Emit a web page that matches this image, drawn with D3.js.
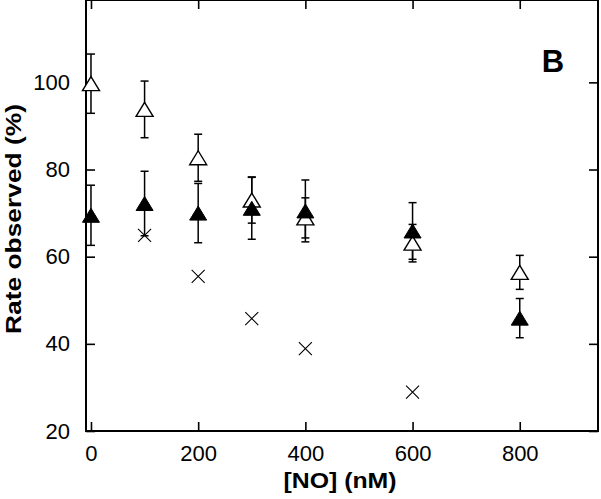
<!DOCTYPE html>
<html>
<head>
<meta charset="utf-8">
<script src="https://cdn.jsdelivr.net/npm/d3@7"></script>
<style>
  body { margin: 0; background: #fff; }
  svg { display: block; font-family: "Liberation Sans", Arial, sans-serif; }
  .axis text { font-size: 22px; fill: #000; }
  .axis line { stroke: #000; stroke-width: 1.6px; }
</style>
</head>
<body>
<div id="chart"></div>
<script>
// [NO] concentrations (nM)
const conc = [0, 100, 200, 300, 400, 600, 800];
// open triangles
const openMean = [99.7, 93.8, 82.7, 73.0, 68.9, 63.1, 56.4];
const openErr = [6.8, 6.5, 5.4, 5.3, 4.6, 4.3, 3.9];
// filled triangles
const filledMean = [69.5, 72.2, 70.0, 71.1, 70.5, 65.9, 45.9];
const filledErr = [6.9, 7.4, 6.8, 7.1, 7.1, 6.5, 4.5];
// crosses
const crossConc = [100, 200, 300, 400, 600];
const crossVal = [64.9, 55.5, 45.8, 38.9, 28.9];

const xTicks = [0, 200, 400, 600, 800];
const yTicks = [20, 40, 60, 80, 100];

const width = 601, height = 499;
const margin = {t: 0, r: 3, b: 68, l: 86};
const w = width - margin.l - margin.r;
const h = height - margin.t - margin.b;

const svg = d3.select('#chart').append('svg')
  .attr('width', width)
  .attr('height', height);

const plot = svg.append('g')
  .attr('transform', `translate(${margin.l},${margin.t})`);

const scaleX = d3.scaleLinear().domain([-9.3, 946]).range([0, w]);
const scaleY = d3.scaleLinear().domain([20, 118.9]).range([h, 0]);

//Axes: ticks point inward, mirrored on top and right
const axisBottom = d3.axisBottom(scaleX).tickValues(xTicks).tickSizeInner(-9).tickSizeOuter(0).tickPadding(14);
const axisTop = d3.axisTop(scaleX).tickValues(xTicks).tickSizeInner(-9).tickSizeOuter(0).tickFormat('');
const axisLeft = d3.axisLeft(scaleY).tickValues(yTicks).tickSizeInner(-9).tickSizeOuter(0).tickPadding(16);
const axisRight = d3.axisRight(scaleY).tickValues(yTicks).tickSizeInner(-9).tickSizeOuter(0).tickFormat('');

plot.append('g').attr('class', 'axis').attr('transform', `translate(0,${h})`).call(axisBottom);
plot.append('g').attr('class', 'axis').call(axisTop);
plot.append('g').attr('class', 'axis').call(axisLeft);
plot.append('g').attr('class', 'axis').attr('transform', `translate(${w},0)`).call(axisRight);
plot.selectAll('.axis .domain').remove();
plot.selectAll('.axis text').attr('font-family', null);

//Frame
plot.append('rect')
  .attr('x', 0).attr('y', 0)
  .attr('width', w).attr('height', h)
  .attr('fill', 'none')
  .attr('stroke', '#000')
  .attr('stroke-width', 2);

//Build point tables
const openPts = conc.map((c, i) => ({x: c, y: openMean[i], e: openErr[i]}));
const filledPts = conc.map((c, i) => ({x: c, y: filledMean[i], e: filledErr[i]}));
const crossPts = crossConc.map((c, i) => ({x: c, y: crossVal[i]}));

//Error bars
function errorBars(sel, data) {
  const g = sel.append('g').selectAll('g').data(data).enter().append('g')
    .attr('stroke', '#000').attr('stroke-width', 1.5);
  g.append('line')
    .attr('x1', d => scaleX(d.x)).attr('x2', d => scaleX(d.x))
    .attr('y1', d => scaleY(d.y + d.e)).attr('y2', d => scaleY(d.y - d.e));
  [1, -1].forEach(s => {
    g.append('line')
      .attr('x1', d => scaleX(d.x) - 4).attr('x2', d => scaleX(d.x) + 4)
      .attr('y1', d => scaleY(d.y + s * d.e)).attr('y2', d => scaleY(d.y + s * d.e));
  });
}
errorBars(plot, openPts);
errorBars(plot, filledPts);

//Triangle marker: apex 7px above centre, base 7px below
const tri = 'M0,-7L8.5,7L-8.5,7Z';

plot.append('g').selectAll('path').data(openPts).enter().append('path')
  .attr('d', tri)
  .attr('transform', d => `translate(${scaleX(d.x)},${scaleY(d.y)})`)
  .attr('fill', '#fff')
  .attr('stroke', '#000')
  .attr('stroke-width', 1.4);

plot.append('g').selectAll('path').data(filledPts).enter().append('path')
  .attr('d', tri)
  .attr('transform', d => `translate(${scaleX(d.x)},${scaleY(d.y)})`)
  .attr('fill', '#000')
  .attr('stroke', '#000')
  .attr('stroke-width', 1);

//Crosses
plot.append('g').selectAll('path').data(crossPts).enter().append('path')
  .attr('d', 'M-6.5,-6.5L6.5,6.5M-6.5,6.5L6.5,-6.5')
  .attr('transform', d => `translate(${scaleX(d.x)},${scaleY(d.y)})`)
  .attr('fill', 'none')
  .attr('stroke', '#000')
  .attr('stroke-width', 1.1);

//Panel letter
svg.append('text')
  .attr('x', 553).attr('y', 72)
  .attr('text-anchor', 'middle')
  .attr('font-size', 31)
  .attr('font-weight', 'bold')
  .text('B');

//Axis titles
svg.append('text')
  .attr('x', 340).attr('y', 488)
  .attr('text-anchor', 'middle')
  .attr('font-size', 22)
  .attr('font-weight', 'bold')
  .attr('textLength', 113)
  .attr('lengthAdjust', 'spacingAndGlyphs')
  .text('[NO] (nM)');

svg.append('text')
  .attr('transform', 'translate(21,219) rotate(-90)')
  .attr('text-anchor', 'middle')
  .attr('font-size', 22)
  .attr('font-weight', 'bold')
  .attr('textLength', 230)
  .attr('lengthAdjust', 'spacingAndGlyphs')
  .text('Rate observed (%)');
</script>
</body>
</html>
